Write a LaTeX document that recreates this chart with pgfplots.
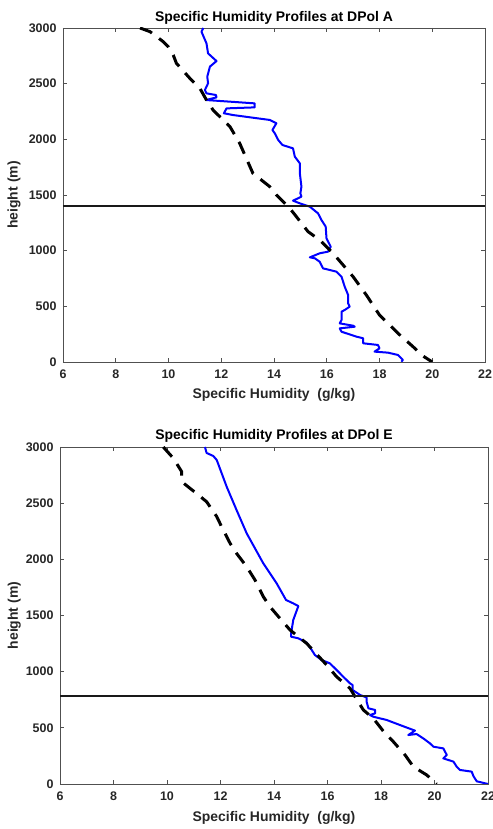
\documentclass[border=0pt]{standalone}
\usepackage{pgfplots}
\pgfplotsset{compat=1.18}
\usepackage{fontspec}
\setmainfont{Liberation Sans}
\definecolor{axgray}{HTML}{262626}
\definecolor{lngray}{HTML}{505050}
\pgfplotsset{
  myax/.style={
    scale only axis,
    xmin=6, xmax=22, ymin=0, ymax=3000,
    xtick={6,8,...,22}, ytick={0,500,...,3000},
    tick align=inside, tickpos=both,
    major tick length=4bp,
    axis line style={lngray, line width=0.7bp},
    every tick/.style={lngray, line width=0.7bp},
    /pgf/number format/assume math mode=true,
    /pgf/number format/1000 sep={},
    tick label style={font=\bfseries\fontsize{12.5}{14}\selectfont, text=axgray},
    xticklabel style={yshift=-4bp},
    yticklabel style={xshift=-3bp},
    label style={font=\bfseries\fontsize{14}{16}\selectfont, text=axgray},
    title style={font=\bfseries\fontsize{14}{16}\selectfont, anchor=center, yshift=-9bp},
    xlabel={Specific Humidity~~(g/kg)},
    ylabel={height (m)},
    clip=true,
  },
  bl/.style={blue, line width=2bp, line join=round},
  bk/.style={black, line width=3bp, dash pattern=on 13bp off 9bp},
  hl/.style={black!90, line width=2bp},
}
\begin{document}
\begin{tikzpicture}
\path[use as bounding box] (0,0) rectangle (493bp,829bp);
% ---------- Top axis ----------
\begin{axis}[myax,
  at={(63bp,467bp)}, anchor=south west,
  width=422bp, height=334bp,
  title={Specific Humidity Profiles at DPol A},
  title style={at={(axis description cs:0.5,1.039)}},
  xlabel style={at={(axis description cs:0.5,-0.099)}, anchor=center},
  ylabel style={at={(axis description cs:-0.116,0.5)}, anchor=center},
]
\addplot[bl] coordinates {
(11.32,3000)(11.25,2967)(11.44,2862)(11.50,2772)(11.82,2703)(11.57,2653)
(11.47,2563)(11.50,2503)(11.38,2443)(11.44,2413)(11.80,2398)(11.82,2377)
(11.42,2353)(13.27,2323)(13.27,2287)(12.20,2278)(12.10,2234)(12.45,2218)
(13.84,2174)(14.09,2144)(13.94,2084)(14.03,2054)(14.16,1994)(14.32,1949)
(14.72,1919)(14.79,1844)(14.98,1784)(14.98,1695)(15.04,1575)(15.00,1515)
(15.04,1485)(14.72,1449)(14.98,1425)(15.36,1395)(15.67,1335)(15.80,1275)
(15.96,1216)(15.99,1111)(16.15,1036)(16.05,991)(15.73,976)(15.36,940)
(15.55,931)(15.73,901)(15.86,841)(16.37,811)(16.56,766)(16.68,677)
(16.81,602)(16.81,527)(16.87,497)(16.68,467)(16.56,452)(16.56,377)
(16.49,347)(17.00,326)(17.06,317)(16.49,302)(16.56,272)(17.12,228)
(17.38,213)(17.38,168)(17.94,153)(18.00,123)(17.81,93)(18.32,84)
(18.70,63)(18.89,18)(18.83,3)
};
\addplot[bk] coordinates {
(8.92,3000)(9.30,2967)(9.80,2877)(9.99,2832)(10.18,2757)(10.30,2683)
(10.81,2548)(11.19,2458)(11.44,2353)(11.69,2263)(12.33,2114)(12.70,1964)
(13.20,1695)(13.84,1575)(14.09,1500)(14.60,1380)(14.85,1305)(15.29,1171)
(15.73,1096)(16.24,976)(17.00,766)(17.50,602)(18.00,422)(18.77,243)
(19.27,138)(19.59,63)(20.00,0)
};
\addplot[hl] coordinates {(6,1400)(22,1400)};
\end{axis}
% ---------- Bottom axis ----------
\begin{axis}[myax,
  at={(60bp,45bp)}, anchor=south west,
  width=428bp, height=337bp,
  title={Specific Humidity Profiles at DPol E},
  title style={at={(axis description cs:0.5,1.0415)}},
  xlabel style={at={(axis description cs:0.5,-0.101)}, anchor=center},
  ylabel style={at={(axis description cs:-0.107,0.5)}, anchor=center},
]
\addplot[bl] coordinates {
(11.42,3000)(11.48,2947)(11.73,2920)(11.86,2884)(12.23,2647)(12.60,2439)
(12.98,2231)(13.60,1964)(14.10,1786)(14.45,1638)(14.72,1608)(14.91,1584)
(14.72,1460)(14.64,1341)(14.64,1311)(14.91,1297)(15.22,1258)(15.41,1193)
(15.53,1148)(15.78,1104)(16.09,1074)(16.34,1015)(16.59,955)(16.84,896)
(16.94,881)(16.94,837)(17.22,792)(17.46,771)(17.46,733)(17.53,674)
(17.78,659)(17.78,629)(17.59,614)(17.71,599)(18.21,570)(18.71,525)
(19.27,475)(19.02,436)(19.33,445)(19.58,406)(19.83,362)(19.96,332)
(20.33,317)(20.46,258)(20.33,228)(20.71,199)(20.83,154)(20.95,125)
(21.39,110)(21.46,68)(21.58,24)(22.00,0)
};
\addplot[bk] coordinates {
(9.86,3000)(10.24,2899)(10.55,2780)(10.55,2691)(11.10,2587)(11.48,2513)
(11.86,2380)(12.04,2291)(12.36,2142)(12.60,2053)(12.98,1934)(13.29,1816)
(13.60,1668)(13.85,1578)(14.22,1475)(14.60,1371)(15.22,1252)(15.97,1059)
(16.34,955)(16.84,852)(17.03,777)(17.34,659)(17.71,585)(18.15,451)
(18.46,377)(18.90,258)(19.21,154)(19.71,80)(20.08,0)
};
\addplot[hl] coordinates {(6,780)(22,780)};
\end{axis}
\end{tikzpicture}
\end{document}
